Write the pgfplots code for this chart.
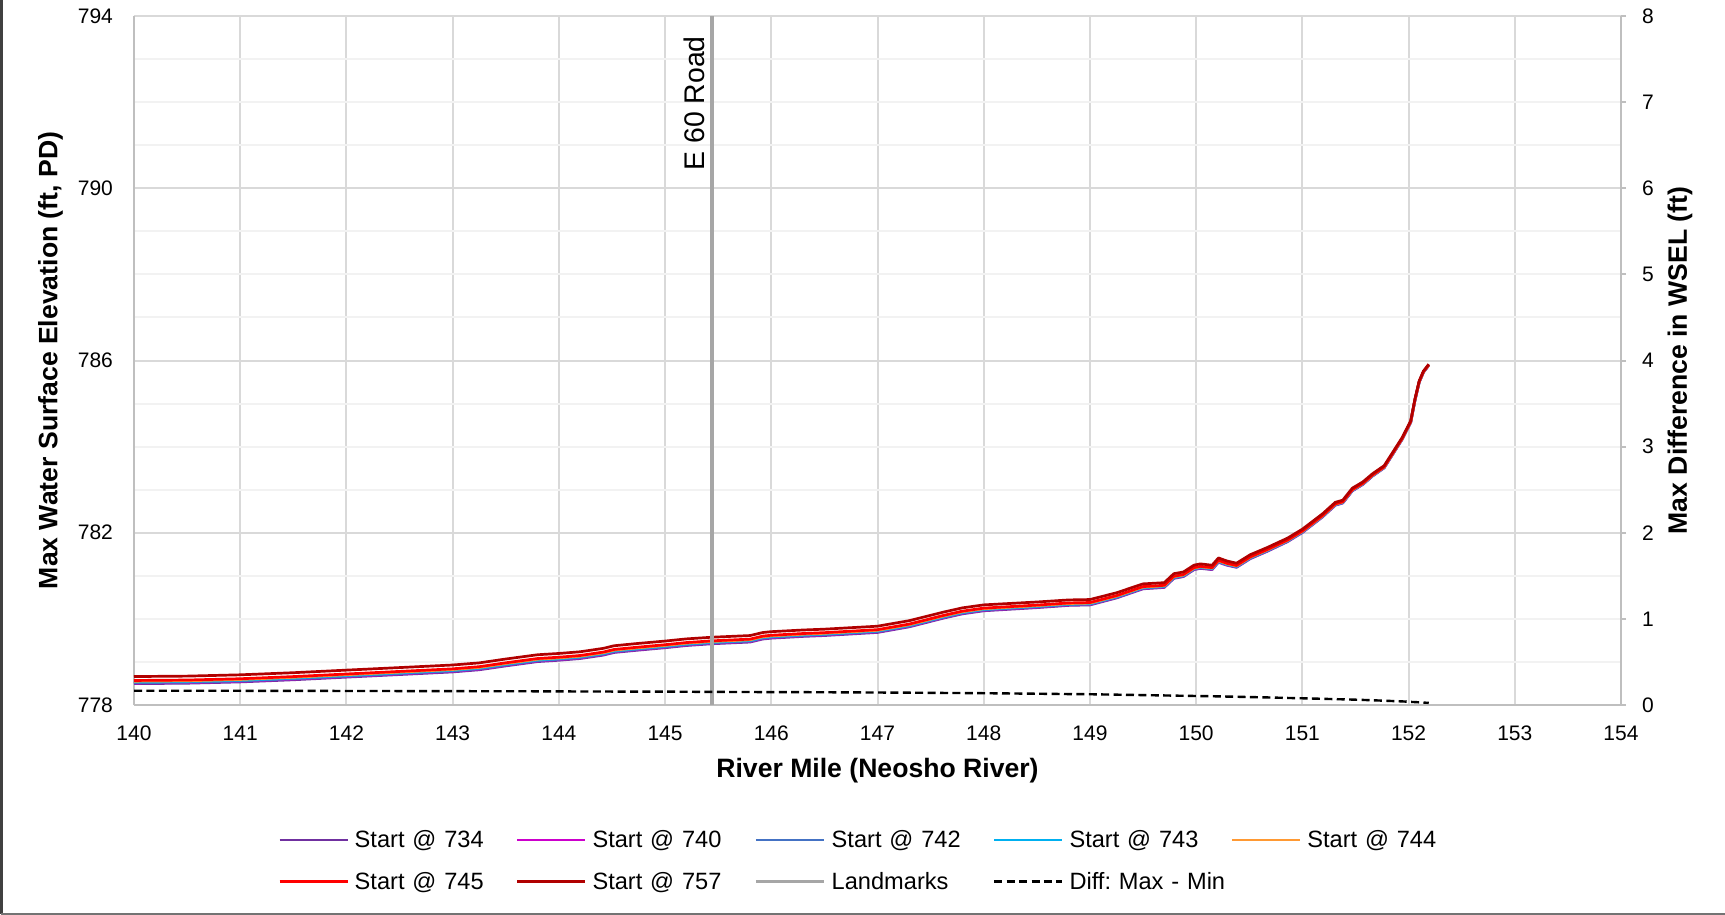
\documentclass[border=0pt]{standalone}
\usepackage{fontspec}
\setmainfont{Liberation Sans}
\usepackage{pgfplots}
\usepackage{pgfplotstable}
\pgfplotsset{compat=1.18}
\frenchspacing
\definecolor{c734}{HTML}{7030A0}
\definecolor{c740}{HTML}{CC00CC}
\definecolor{c742}{HTML}{4472C4}
\definecolor{c743}{HTML}{00B0F0}
\definecolor{c744}{HTML}{FF9933}
\definecolor{c745}{HTML}{FF0000}
\definecolor{c757}{HTML}{B00000}
\definecolor{cland}{HTML}{A6A6A6}
\definecolor{gmaj}{HTML}{D9D9D9}
\definecolor{gmin}{HTML}{F2F2F2}
\definecolor{axl}{HTML}{BFBFBF}

\pgfplotstableread{
x s734 s740 s742 s743 s744 s745 s757 diff
140.00 778.496 778.512 778.520 778.537 778.553 778.570 778.661 0.165
140.50 778.506 778.522 778.530 778.547 778.563 778.580 778.671 0.165
141.00 778.536 778.552 778.560 778.577 778.593 778.610 778.701 0.165
141.50 778.586 778.603 778.611 778.627 778.644 778.660 778.750 0.164
142.00 778.647 778.663 778.671 778.687 778.704 778.720 778.810 0.163
142.50 778.707 778.723 778.731 778.748 778.764 778.780 778.869 0.162
143.00 778.768 778.784 778.792 778.808 778.824 778.840 778.929 0.161
143.25 778.818 778.834 778.842 778.858 778.874 778.890 778.978 0.160
143.50 778.908 778.924 778.932 778.948 778.964 778.980 779.068 0.160
143.80 779.008 779.024 779.032 779.048 779.064 779.080 779.167 0.159
144.00 779.039 779.055 779.063 779.078 779.094 779.110 779.197 0.158
144.20 779.079 779.095 779.103 779.119 779.134 779.150 779.236 0.157
144.42 779.159 779.175 779.183 779.199 779.214 779.230 779.316 0.157
144.52 779.220 779.235 779.243 779.259 779.274 779.290 779.376 0.156
144.73 779.270 779.285 779.293 779.309 779.324 779.340 779.426 0.156
145.00 779.330 779.346 779.353 779.369 779.384 779.400 779.485 0.155
145.20 779.381 779.396 779.404 779.419 779.435 779.450 779.535 0.154
145.44 779.422 779.437 779.444 779.460 779.475 779.490 779.574 0.152
145.80 779.462 779.477 779.485 779.500 779.515 779.530 779.613 0.151
145.92 779.532 779.547 779.555 779.570 779.585 779.600 779.683 0.150
146.00 779.552 779.567 779.575 779.590 779.605 779.620 779.703 0.150
146.30 779.593 779.608 779.615 779.630 779.645 779.660 779.742 0.149
146.50 779.613 779.628 779.636 779.650 779.665 779.680 779.761 0.148
147.00 779.685 779.699 779.706 779.721 779.735 779.750 779.830 0.145
147.30 779.816 779.830 779.837 779.851 779.866 779.880 779.959 0.143
147.62 780.017 780.031 780.038 780.052 780.066 780.080 780.157 0.140
147.80 780.117 780.131 780.138 780.152 780.166 780.180 780.256 0.139
148.00 780.188 780.202 780.209 780.223 780.236 780.250 780.325 0.137
148.50 780.261 780.274 780.281 780.294 780.307 780.320 780.392 0.131
148.80 780.313 780.326 780.332 780.345 780.357 780.370 780.440 0.127
149.00 780.324 780.336 780.342 780.355 780.367 780.380 780.449 0.125
149.25 780.486 780.498 780.504 780.516 780.528 780.540 780.606 0.120
149.50 780.698 780.710 780.715 780.727 780.738 780.750 780.813 0.115
149.70 780.730 780.741 780.747 780.758 780.769 780.780 780.841 0.111
149.79 780.941 780.952 780.957 780.968 780.979 780.990 781.050 0.109
149.88 780.982 780.993 780.998 781.009 781.019 781.030 781.089 0.107
149.98 781.143 781.153 781.158 781.169 781.179 781.190 781.248 0.105
150.04 781.173 781.184 781.189 781.199 781.210 781.220 781.277 0.104
150.15 781.144 781.154 781.159 781.170 781.180 781.190 781.246 0.102
150.21 781.315 781.325 781.330 781.340 781.350 781.360 781.415 0.100
150.29 781.246 781.256 781.261 781.270 781.280 781.290 781.344 0.098
150.38 781.197 781.206 781.211 781.221 781.230 781.240 781.293 0.096
150.51 781.399 781.408 781.412 781.422 781.431 781.440 781.491 0.092
150.67 781.570 781.579 781.584 781.592 781.601 781.610 781.658 0.088
150.86 781.793 781.801 781.805 781.814 781.822 781.830 781.875 0.082
151.00 782.005 782.013 782.017 782.024 782.032 782.040 782.083 0.078
151.19 782.368 782.375 782.378 782.386 782.393 782.400 782.440 0.072
151.31 782.639 782.646 782.650 782.656 782.663 782.670 782.707 0.068
151.38 782.690 782.697 782.700 782.707 782.713 782.720 782.756 0.066
151.47 782.972 782.978 782.981 782.987 782.994 783.000 783.035 0.063
151.57 783.123 783.129 783.132 783.138 783.144 783.150 783.182 0.059
151.66 783.315 783.321 783.323 783.329 783.334 783.340 783.370 0.055
151.77 783.507 783.512 783.515 783.520 783.525 783.530 783.558 0.050
151.85 783.819 783.824 783.826 783.831 783.835 783.840 783.865 0.046
151.94 784.171 784.175 784.177 784.182 784.186 784.190 784.213 0.042
152.02 784.564 784.567 784.569 784.573 784.576 784.580 784.600 0.036
152.06 785.075 785.078 785.080 785.083 785.087 785.090 785.109 0.034
152.10 785.496 785.499 785.501 785.504 785.507 785.510 785.527 0.031
152.14 785.727 785.730 785.732 785.734 785.737 785.740 785.755 0.028
152.19 785.889 785.891 785.892 785.895 785.897 785.900 785.914 0.025
}\wsel

\pgfplotstableread{
x y
145.44 778
145.44 794
}\landmark

\newcommand{\tickfont}{\fontsize{10.5}{12}\selectfont}
\newcommand{\titlefont}{\bfseries\fontsize{13.3}{16}\selectfont}

\begin{document}
\begin{tikzpicture}
\path[use as bounding box] (0,0) rectangle (862.5pt,-457.5pt);
\draw[black!75, line width=1.3pt] (0.65pt,0pt) -- (0.65pt,-456.85pt);
\draw[black!55, line width=1.2pt] (0.65pt,-456.9pt) -- (862.5pt,-456.9pt);

\begin{axis}[
  scale only axis, width=743.5pt, height=344.5pt,
  at={(67pt,-352.5pt)}, anchor=south west,
  xmin=140, xmax=154, ymin=778, ymax=794,
  xtick={140,141,...,154}, ytick={778,782,...,794},
  minor ytick={779,780,781,783,784,785,787,788,789,791,792,793},
  grid=both,
  major grid style={gmaj, line width=1pt},
  minor grid style={gmin, line width=1pt},
  axis x line*=bottom, axis y line*=left,
  axis line style={axl, line width=1pt, -},
  major tick length=0pt, minor tick length=0pt,
  tick style={draw=none},
  scaled ticks=false,
  /pgf/number format/assume math mode=true,
  /pgf/number format/1000 sep={},
  tick label style={font=\tickfont, black},
  xticklabel style={yshift=-7pt},
  yticklabel style={xshift=-7pt},
  xlabel={River Mile (Neosho River)},
  ylabel={Max Water Surface Elevation (ft, PD)},
  every axis x label/.style={at={(axis description cs:0.5,-0.0958)}, anchor=center, font=\titlefont},
  every axis y label/.style={at={(axis description cs:-0.0561,0.5)}, rotate=90, anchor=center, font=\titlefont},
  every axis plot/.append style={line join=round},
]
\addplot[c734, line width=1.35pt] table[x=x, y=s734] {\wsel};
\addplot[c740, line width=1.35pt] table[x=x, y=s740] {\wsel};
\addplot[c742, line width=1.35pt] table[x=x, y=s742] {\wsel};
\addplot[c743, line width=1.35pt] table[x=x, y=s743] {\wsel};
\addplot[c744, line width=1.35pt] table[x=x, y=s744] {\wsel};
\addplot[c745, line width=1.35pt] table[x=x, y=s745] {\wsel};
\addplot[c757, line width=1.35pt] table[x=x, y=s757] {\wsel};
\addplot[cland, line width=1.75pt] table[x=x, y=y] {\landmark};
\node[rotate=90, anchor=south east, inner sep=0pt, font=\fontsize{14.2}{17}\selectfont]
  at ([xshift=-3.5pt]axis cs:145.44,793.54) {E 60 Road};
\end{axis}

\begin{axis}[
  scale only axis, width=743.5pt, height=344.5pt,
  at={(67pt,-352.5pt)}, anchor=south west,
  xmin=140, xmax=154, ymin=0, ymax=8,
  ytick={0,1,...,8},
  axis x line=none, axis y line*=right,
  axis line style={axl, line width=1pt, -},
  tick align=outside, major tick length=2.5pt,
  ytick style={axl, line width=1pt},
  scaled ticks=false,
  /pgf/number format/assume math mode=true,
  tick label style={font=\tickfont, black},
  yticklabel style={xshift=4.5pt},
  ylabel={Max Difference in WSEL (ft)},
  every axis y label/.style={at={(axis description cs:1.0397,0.5)}, rotate=90, anchor=center, font=\titlefont},
  legend columns=5,
  legend cell align=left,
  legend image code/.code={\draw[#1] (0pt,0pt) -- (34pt,0pt);},
  legend style={at={(axis description cs:0.0968,-0.1777)}, anchor=north west,
    draw=none, fill=none, inner sep=0pt, column sep=0pt, row sep=8.8pt,
    font=\fontsize{11.8}{14}\selectfont,
    nodes={inner xsep=3pt, inner ysep=0pt, text width=77.7pt, text height=10pt, text depth=2pt, align=left}},
]
\addlegendimage{c734, line width=1.2pt}
\addlegendentry{Start @ 734}
\addlegendimage{c740, line width=1.2pt}
\addlegendentry{Start @ 740}
\addlegendimage{c742, line width=1.2pt}
\addlegendentry{Start @ 742}
\addlegendimage{c743, line width=1.2pt}
\addlegendentry{Start @ 743}
\addlegendimage{c744, line width=1.2pt}
\addlegendentry{Start @ 744}
\addlegendimage{c745, line width=1.2pt}
\addlegendentry{Start @ 745}
\addlegendimage{c757, line width=1.2pt}
\addlegendentry{Start @ 757}
\addlegendimage{cland, line width=1.9pt}
\addlegendentry{Landmarks}
\addplot[black, line width=1.2pt, dash pattern=on 4pt off 2.2pt] table[x=x, y=diff] {\wsel};
\addlegendentry{\mbox{Diff: Max - Min}}
\end{axis}
\end{tikzpicture}
\end{document}
